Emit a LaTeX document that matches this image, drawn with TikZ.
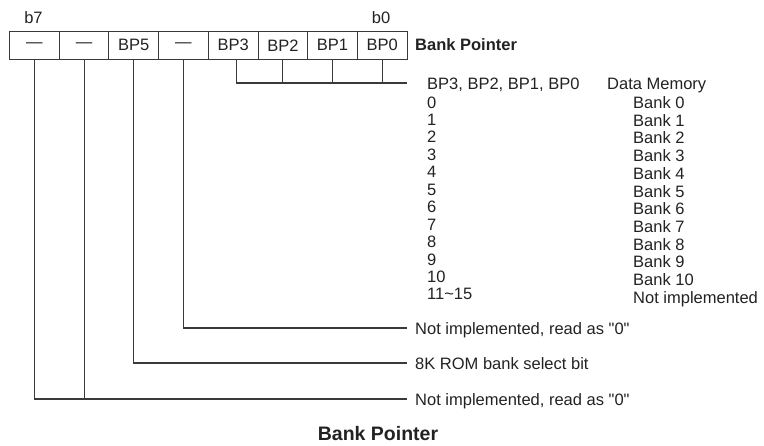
\documentclass[tikz,border=0pt]{standalone}
\usepackage{fontspec}
\setmainfont{Liberation Sans}
\definecolor{ink}{HTML}{222222}
\definecolor{wirec}{HTML}{3A3A3A}
\begin{document}
\begin{tikzpicture}[x=1pt,y=-1pt,
  every node/.style={font=\fontsize{16.5}{18}\selectfont, text=ink, inner sep=0pt},
  cell/.style={draw=wirec, line width=1pt, minimum width=49.7pt, minimum height=28.5pt, anchor=north west},
  wire/.style={draw=wirec, line width=1.1pt},
  lbl/.style={anchor=base west},
  title/.style={anchor=base, font=\fontsize{19.5}{22}\selectfont\bfseries}]
\useasboundingbox (0,0) rectangle (764,445);
% register cells
\foreach \i/\t in {0/—,1/—,2/BP5,3/—,4/BP3,5/BP2,6/BP1,7/BP0}
  \node[cell] (c\i) at ({9+49.7*\i},30.5) {\t};
\node[anchor=base] (b7) at (33.5,23) {b7};
\node[anchor=base] (b0) at (381,23) {b0};
\node[lbl, font=\fontsize{16.5}{18}\selectfont\bfseries] (bpl) at (415,50) {Bank Pointer};
% bracket of BP3..BP0
\coordinate (k) at (407,83);
\draw[wire] ([xshift=3pt]c4.south) |- (k);
\foreach \i in {5,6,7} \draw[wire] (c\i.south) -- (c\i.south |- k);
% table
\node[lbl] (hdr) at (427,89) {BP3, BP2, BP1, BP0};
\node[lbl] (dm) at (607,89) {Data Memory};
\foreach \k/\n in {0/0,1/1,2/2,3/3,4/4,5/5,6/6,7/7,8/8,9/9,10/10,11/11\textasciitilde 15}
  \node[lbl] (n\k) at (427,{108+17.45*\k}) {\n};
\foreach \k/\n in {0/Bank 0,1/Bank 1,2/Bank 2,3/Bank 3,4/Bank 4,5/Bank 5,6/Bank 6,7/Bank 7,8/Bank 8,9/Bank 9,10/Bank 10,11/Not implemented}
  \node[lbl] (m\k) at (633,{108.5+17.7*\k}) {\n};
% lower connectors
\coordinate (e1) at (407,328);
\coordinate (e2) at (407,363);
\coordinate (e3) at (407,399);
\draw[wire] (c3.south) |- (e1);
\draw[wire] (c2.south) |- (e2);
\draw[wire] (c0.south) |- (e3);
\draw[wire] (c1.south) -- (c1.south |- e3);
\node[lbl] (t1) at (415,334) {Not implemented, read as \textquotedbl 0\textquotedbl};
\node[lbl] (t2) at (415,369) {8K ROM bank select bit};
\node[lbl] (t3) at (415,405) {Not implemented, read as \textquotedbl 0\textquotedbl};
\node[title] (ttl) at (378,440) {Bank Pointer};
\end{tikzpicture}
\end{document}
